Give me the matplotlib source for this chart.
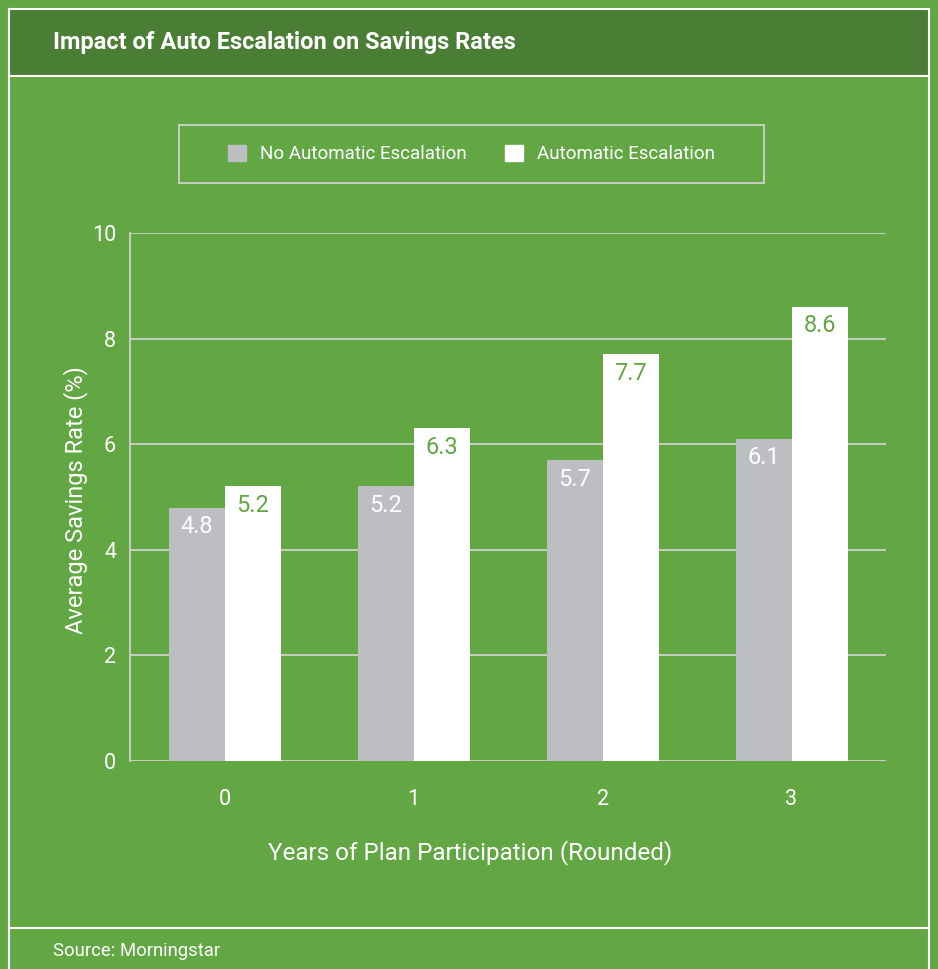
import matplotlib
matplotlib.use("Agg")
import matplotlib.pyplot as plt
import matplotlib.patches as mpatches
from matplotlib.lines import Line2D
import numpy as np

plt.rcParams['font.family'] = ['Roboto', 'DejaVu Sans']

categories = ["0", "1", "2", "3"]
no_escalation = [4.8, 5.2, 5.7, 6.1]
auto_escalation = [5.2, 6.3, 7.7, 8.6]
series_names = ["No Automatic Escalation", "Automatic Escalation"]
y_ticks = [0, 2, 4, 6, 8, 10]

BG = "#62a744"
HEADER = "#4a7e34"
GRAY = "#bdbec2"
WHITE = "#ffffff"
LINE = "#d0d3cc"

W, H = 938, 969
fig = plt.figure(figsize=(W / 100, H / 100), dpi=100, facecolor=BG)

def fx(px):
    return px / W

def fy(py):
    return 1 - py / H

# header band
fig.add_artist(mpatches.Rectangle((fx(9), fy(76)), fx(929) - fx(9), fy(9) - fy(76),
                                  transform=fig.transFigure, facecolor=HEADER,
                                  edgecolor="none", zorder=0))
# frame lines
frame_kw = dict(transform=fig.transFigure, color=WHITE, lw=1.5, zorder=1)
fig.add_artist(Line2D([fx(9), fx(9)], [fy(9), 0], **frame_kw))
fig.add_artist(Line2D([fx(929), fx(929)], [fy(9), 0], **frame_kw))
fig.add_artist(Line2D([fx(9), fx(929)], [fy(9), fy(9)], **frame_kw))
fig.add_artist(Line2D([fx(9), fx(929)], [fy(76), fy(76)], **frame_kw))
fig.add_artist(Line2D([fx(9), fx(929)], [fy(928), fy(928)], **frame_kw))

fig.text(fx(53), fy(43), "Impact of Auto Escalation on Savings Rates",
         color=WHITE, fontsize=17, fontweight="bold", va="center", ha="left")
fig.text(fx(53), fy(951), "Source: Morningstar", color=WHITE, fontsize=13.3,
         va="center", ha="left")

ax = fig.add_axes([fx(130), fy(761), fx(886) - fx(130), fy(233) - fy(761)])
ax.set_facecolor(BG)
x = np.arange(len(categories))
bw = 56 / 189
ax.bar(x - bw / 2, no_escalation, width=bw, color=GRAY, zorder=3)
ax.bar(x + bw / 2, auto_escalation, width=bw, color=WHITE, zorder=3)

for xi, v in zip(x, no_escalation):
    ax.annotate(f"{v}", (xi - bw / 2, v), xytext=(0, -19), textcoords="offset pixels",
                ha="center", va="center", color=WHITE, fontsize=17, zorder=4)
for xi, v in zip(x, auto_escalation):
    ax.annotate(f"{v}", (xi + bw / 2, v), xytext=(0, -19), textcoords="offset pixels",
                ha="center", va="center", color=BG, fontsize=17, zorder=4)

ax.set_xlim(-0.5, 3.5)
ax.set_ylim(0, 10)
ax.set_yticks(y_ticks)
ax.set_xticks(x)
ax.set_xticklabels(categories)
ax.yaxis.grid(True, color=LINE, lw=1.3, zorder=1)
for s in ["top", "right", "bottom"]:
    ax.spines[s].set_visible(False)
ax.spines["left"].set_color(LINE)
ax.spines["left"].set_linewidth(1.3)
ax.tick_params(axis="both", length=0, colors=WHITE, labelsize=15.5)
ax.tick_params(axis="y", pad=10)
ax.tick_params(axis="x", pad=20)

ax.set_xlabel("Years of Plan Participation (Rounded)", color=WHITE, fontsize=17.5, va="center")
ax.xaxis.set_label_coords((470 - 130) / 756, (761 - 853) / 528)
ax.set_ylabel("Average Savings Rate (%)", color=WHITE, fontsize=17, va="center")
ax.yaxis.set_label_coords((76 - 130) / 756, (761 - 500) / 528)

# legend box
fig.add_artist(mpatches.Rectangle((fx(179), fy(183)), fx(764) - fx(179), fy(125) - fy(183),
                                  transform=fig.transFigure, facecolor="none",
                                  edgecolor=LINE, lw=1.3))
handles = [mpatches.Patch(color=GRAY), mpatches.Patch(color=WHITE)]
leg = fig.legend(handles, series_names, loc="center", bbox_to_anchor=(fx(471.5), fy(154)),
                 ncol=2, frameon=False, fontsize=13.5, labelcolor=WHITE,
                 handlelength=1.0, handleheight=1.0, columnspacing=2.0, handletextpad=0.75)

fig.savefig("out.png", dpi=100, facecolor=BG)
